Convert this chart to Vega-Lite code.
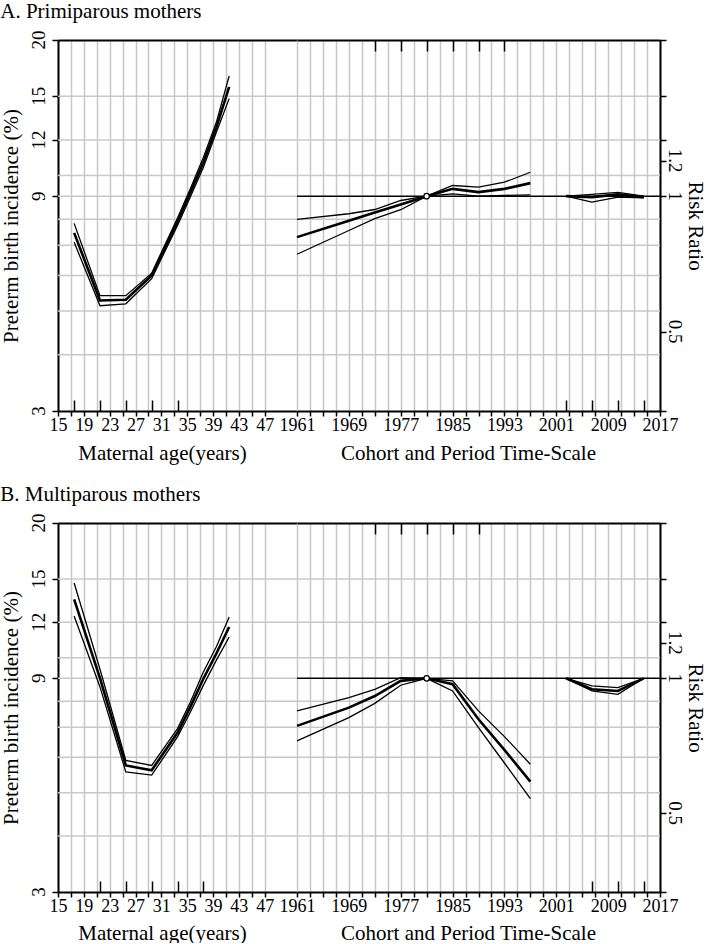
{
  "$schema": "https://vega.github.io/schema/vega-lite/v6.json",
  "padding": {"left": 0, "top": 0, "right": 0, "bottom": 0},
  "datasets": {
    "gridRate": [{"rate": 4}, {"rate": 5}, {"rate": 6}, {"rate": 7}, {"rate": 8}, {"rate": 9}, {"rate": 10}, {"rate": 12}, {"rate": 15}],
    "gridRR": [{"rr": 0.444444}, {"rr": 0.555556}, {"rr": 0.666667}, {"rr": 0.777778}, {"rr": 0.888889}, {"rr": 1.111111}, {"rr": 1.333333}, {"rr": 1.666667}],
    "refline": [{"rr": 1}],
    "ylabL": [{"rate": 3, "t": "3"}, {"rate": 9, "t": "9"}, {"rate": 12, "t": "12"}, {"rate": 15, "t": "15"}, {"rate": 20, "t": "20"}],
    "ylabR": [{"rr": 0.5, "t": "0.5"}, {"rr": 1, "t": "1"}, {"rr": 1.2, "t": "1.2"}],
    "age": [
      {"p": "A", "age": 17.5, "band": "hi", "rate": 7.83}, {"p": "A", "age": 17.5, "band": "est", "rate": 7.46}, {"p": "A", "age": 17.5, "band": "lo", "rate": 7.11},
      {"p": "A", "age": 21.5, "band": "hi", "rate": 5.41}, {"p": "A", "age": 21.5, "band": "est", "rate": 5.28}, {"p": "A", "age": 21.5, "band": "lo", "rate": 5.14},
      {"p": "A", "age": 25.5, "band": "hi", "rate": 5.41}, {"p": "A", "age": 25.5, "band": "est", "rate": 5.30}, {"p": "A", "age": 25.5, "band": "lo", "rate": 5.19},
      {"p": "A", "age": 29.5, "band": "hi", "rate": 6.07}, {"p": "A", "age": 29.5, "band": "est", "rate": 6.00}, {"p": "A", "age": 29.5, "band": "lo", "rate": 5.90},
      {"p": "A", "age": 33.5, "band": "hi", "rate": 8.05}, {"p": "A", "age": 33.5, "band": "est", "rate": 7.90}, {"p": "A", "age": 33.5, "band": "lo", "rate": 7.75},
      {"p": "A", "age": 35.5, "band": "hi", "rate": 9.36}, {"p": "A", "age": 35.5, "band": "est", "rate": 9.17}, {"p": "A", "age": 35.5, "band": "lo", "rate": 8.97},
      {"p": "A", "age": 37.5, "band": "hi", "rate": 10.97}, {"p": "A", "age": 37.5, "band": "est", "rate": 10.69}, {"p": "A", "age": 37.5, "band": "lo", "rate": 10.42},
      {"p": "A", "age": 39.5, "band": "hi", "rate": 13.11}, {"p": "A", "age": 39.5, "band": "est", "rate": 12.78}, {"p": "A", "age": 39.5, "band": "lo", "rate": 12.46},
      {"p": "A", "age": 41.5, "band": "hi", "rate": 16.64}, {"p": "A", "age": 41.5, "band": "est", "rate": 15.73}, {"p": "A", "age": 41.5, "band": "lo", "rate": 14.82},
      {"p": "B", "age": 17.5, "band": "hi", "rate": 14.69}, {"p": "B", "age": 17.5, "band": "est", "rate": 13.51}, {"p": "B", "age": 17.5, "band": "lo", "rate": 12.40},
      {"p": "B", "age": 21.5, "band": "hi", "rate": 9.43}, {"p": "B", "age": 21.5, "band": "est", "rate": 9.01}, {"p": "B", "age": 21.5, "band": "lo", "rate": 8.61},
      {"p": "B", "age": 25.5, "band": "hi", "rate": 5.90}, {"p": "B", "age": 25.5, "band": "est", "rate": 5.75}, {"p": "B", "age": 25.5, "band": "lo", "rate": 5.56},
      {"p": "B", "age": 29.5, "band": "hi", "rate": 5.75}, {"p": "B", "age": 29.5, "band": "est", "rate": 5.61}, {"p": "B", "age": 29.5, "band": "lo", "rate": 5.47},
      {"p": "B", "age": 33.5, "band": "hi", "rate": 6.95}, {"p": "B", "age": 33.5, "band": "est", "rate": 6.80}, {"p": "B", "age": 33.5, "band": "lo", "rate": 6.66},
      {"p": "B", "age": 35.5, "band": "hi", "rate": 7.97}, {"p": "B", "age": 35.5, "band": "est", "rate": 7.77}, {"p": "B", "age": 35.5, "band": "lo", "rate": 7.57},
      {"p": "B", "age": 37.5, "band": "hi", "rate": 9.30}, {"p": "B", "age": 37.5, "band": "est", "rate": 8.98}, {"p": "B", "age": 37.5, "band": "lo", "rate": 8.68},
      {"p": "B", "age": 39.5, "band": "hi", "rate": 10.57}, {"p": "B", "age": 39.5, "band": "est", "rate": 10.21}, {"p": "B", "age": 39.5, "band": "lo", "rate": 9.87},
      {"p": "B", "age": 41.5, "band": "hi", "rate": 12.34}, {"p": "B", "age": 41.5, "band": "est", "rate": 11.72}, {"p": "B", "age": 41.5, "band": "lo", "rate": 11.13}
    ],
    "cp": [
      {"p": "A", "kind": "c", "year": 1961, "band": "hi", "rr": 0.888}, {"p": "A", "kind": "c", "year": 1961, "band": "est", "rr": 0.811}, {"p": "A", "kind": "c", "year": 1961, "band": "lo", "rr": 0.743},
      {"p": "A", "kind": "c", "year": 1969, "band": "hi", "rr": 0.914}, {"p": "A", "kind": "c", "year": 1969, "band": "est", "rr": 0.882}, {"p": "A", "kind": "c", "year": 1969, "band": "lo", "rr": 0.839},
      {"p": "A", "kind": "c", "year": 1973, "band": "hi", "rr": 0.934}, {"p": "A", "kind": "c", "year": 1973, "band": "est", "rr": 0.920}, {"p": "A", "kind": "c", "year": 1973, "band": "lo", "rr": 0.891},
      {"p": "A", "kind": "c", "year": 1977, "band": "hi", "rr": 0.978}, {"p": "A", "kind": "c", "year": 1977, "band": "est", "rr": 0.958}, {"p": "A", "kind": "c", "year": 1977, "band": "lo", "rr": 0.933},
      {"p": "A", "kind": "c", "year": 1981, "band": "hi", "rr": 1}, {"p": "A", "kind": "c", "year": 1981, "band": "est", "rr": 1}, {"p": "A", "kind": "c", "year": 1981, "band": "lo", "rr": 1},
      {"p": "A", "kind": "c", "year": 1985, "band": "hi", "rr": 1.056}, {"p": "A", "kind": "c", "year": 1985, "band": "est", "rr": 1.038}, {"p": "A", "kind": "c", "year": 1985, "band": "lo", "rr": 1.012},
      {"p": "A", "kind": "c", "year": 1989, "band": "hi", "rr": 1.047}, {"p": "A", "kind": "c", "year": 1989, "band": "est", "rr": 1.021}, {"p": "A", "kind": "c", "year": 1989, "band": "lo", "rr": 1.0},
      {"p": "A", "kind": "c", "year": 1993, "band": "hi", "rr": 1.074}, {"p": "A", "kind": "c", "year": 1993, "band": "est", "rr": 1.038}, {"p": "A", "kind": "c", "year": 1993, "band": "lo", "rr": 1.004},
      {"p": "A", "kind": "c", "year": 1997, "band": "hi", "rr": 1.130}, {"p": "A", "kind": "c", "year": 1997, "band": "est", "rr": 1.069}, {"p": "A", "kind": "c", "year": 1997, "band": "lo", "rr": 1.007},
      {"p": "A", "kind": "p", "year": 2002.5, "band": "hi", "rr": 1}, {"p": "A", "kind": "p", "year": 2002.5, "band": "est", "rr": 1}, {"p": "A", "kind": "p", "year": 2002.5, "band": "lo", "rr": 1},
      {"p": "A", "kind": "p", "year": 2006.5, "band": "hi", "rr": 1.009}, {"p": "A", "kind": "p", "year": 2006.5, "band": "est", "rr": 0.995}, {"p": "A", "kind": "p", "year": 2006.5, "band": "lo", "rr": 0.970},
      {"p": "A", "kind": "p", "year": 2010.5, "band": "hi", "rr": 1.019}, {"p": "A", "kind": "p", "year": 2010.5, "band": "est", "rr": 1.009}, {"p": "A", "kind": "p", "year": 2010.5, "band": "lo", "rr": 0.995},
      {"p": "A", "kind": "p", "year": 2014.5, "band": "hi", "rr": 1.0}, {"p": "A", "kind": "p", "year": 2014.5, "band": "est", "rr": 0.995}, {"p": "A", "kind": "p", "year": 2014.5, "band": "lo", "rr": 0.992},
      {"p": "B", "kind": "c", "year": 1961, "band": "hi", "rr": 0.846}, {"p": "B", "kind": "c", "year": 1961, "band": "est", "rr": 0.783}, {"p": "B", "kind": "c", "year": 1961, "band": "lo", "rr": 0.725},
      {"p": "B", "kind": "c", "year": 1969, "band": "hi", "rr": 0.906}, {"p": "B", "kind": "c", "year": 1969, "band": "est", "rr": 0.860}, {"p": "B", "kind": "c", "year": 1969, "band": "lo", "rr": 0.817},
      {"p": "B", "kind": "c", "year": 1973, "band": "hi", "rr": 0.945}, {"p": "B", "kind": "c", "year": 1973, "band": "est", "rr": 0.913}, {"p": "B", "kind": "c", "year": 1973, "band": "lo", "rr": 0.879},
      {"p": "B", "kind": "c", "year": 1977, "band": "hi", "rr": 1.004}, {"p": "B", "kind": "c", "year": 1977, "band": "est", "rr": 0.987}, {"p": "B", "kind": "c", "year": 1977, "band": "lo", "rr": 0.965},
      {"p": "B", "kind": "c", "year": 1981, "band": "hi", "rr": 1}, {"p": "B", "kind": "c", "year": 1981, "band": "est", "rr": 1}, {"p": "B", "kind": "c", "year": 1981, "band": "lo", "rr": 1},
      {"p": "B", "kind": "c", "year": 1985, "band": "hi", "rr": 0.987}, {"p": "B", "kind": "c", "year": 1985, "band": "est", "rr": 0.970}, {"p": "B", "kind": "c", "year": 1985, "band": "lo", "rr": 0.937},
      {"p": "B", "kind": "c", "year": 1989, "band": "hi", "rr": 0.846}, {"p": "B", "kind": "c", "year": 1989, "band": "est", "rr": 0.810}, {"p": "B", "kind": "c", "year": 1989, "band": "lo", "rr": 0.776},
      {"p": "B", "kind": "c", "year": 1993, "band": "hi", "rr": 0.741}, {"p": "B", "kind": "c", "year": 1993, "band": "est", "rr": 0.692}, {"p": "B", "kind": "c", "year": 1993, "band": "lo", "rr": 0.647},
      {"p": "B", "kind": "c", "year": 1997, "band": "hi", "rr": 0.643}, {"p": "B", "kind": "c", "year": 1997, "band": "est", "rr": 0.588}, {"p": "B", "kind": "c", "year": 1997, "band": "lo", "rr": 0.539},
      {"p": "B", "kind": "p", "year": 2002.5, "band": "hi", "rr": 1}, {"p": "B", "kind": "p", "year": 2002.5, "band": "est", "rr": 1}, {"p": "B", "kind": "p", "year": 2002.5, "band": "lo", "rr": 1},
      {"p": "B", "kind": "p", "year": 2006.5, "band": "hi", "rr": 0.962}, {"p": "B", "kind": "p", "year": 2006.5, "band": "est", "rr": 0.945}, {"p": "B", "kind": "p", "year": 2006.5, "band": "lo", "rr": 0.937},
      {"p": "B", "kind": "p", "year": 2010.5, "band": "hi", "rr": 0.953}, {"p": "B", "kind": "p", "year": 2010.5, "band": "est", "rr": 0.937}, {"p": "B", "kind": "p", "year": 2010.5, "band": "lo", "rr": 0.921},
      {"p": "B", "kind": "p", "year": 2014.5, "band": "hi", "rr": 1}, {"p": "B", "kind": "p", "year": 2014.5, "band": "est", "rr": 1}, {"p": "B", "kind": "p", "year": 2014.5, "band": "lo", "rr": 1}
    ]
  },
  "spacing": 20,
  "vconcat": [
    {
      "title": {"text": "A. Primiparous mothers"},
      "spacing": 0,
      "bounds": "flush",
      "hconcat": [
        {
          "width": 239, "height": 371,
          "resolve": {"axis": {"x": "independent"}},
          "layer": [
            {"data": {"name": "gridRate"}, "mark": {"type": "rule", "color": "#c8c8c8", "strokeWidth": 1.5},
             "encoding": {"y": {"field": "rate", "type": "quantitative", "scale": {"type": "log", "domain": [3, 20], "nice": false},
               "axis": {"orient": "left", "values": [3, 9, 12, 15, 20], "labels": false, "tickSize": 6, "grid": false, "title": "Preterm birth incidence (%)", "titlePadding": 30}}}},
            {"data": {"name": "ylabL"}, "mark": {"type": "text", "angle": 270, "align": "center", "baseline": "bottom", "dy": -9, "fontSize": 19, "font": "Liberation Serif, Times New Roman, Times, serif", "color": "black"},
             "encoding": {"x": {"datum": 15, "type": "quantitative", "axis": null}, "y": {"field": "rate", "type": "quantitative"}, "text": {"field": "t"}}},
            {"data": {"name": "age"}, "transform": [{"filter": "datum.p == 'A' && datum.band == 'est'"}],
             "mark": {"type": "line", "color": "black", "strokeWidth": 2.6},
             "encoding": {"x": {"field": "age", "type": "quantitative", "scale": {"domain": [15, 52], "nice": false, "zero": false},
               "axis": {"orient": "bottom", "values": [15, 17, 19, 21, 23, 25, 27, 29, 31, 33, 35, 37, 39, 41, 43, 45, 47], "labelExpr": "(datum.value - 15) % 4 === 0 ? datum.label : ''", "grid": true, "gridColor": "#c8c8c8", "gridWidth": 1.5, "tickSize": 5, "labelPadding": 0, "title": "Maternal age(years)", "titleX": 104, "titlePadding": 8}},
               "y": {"field": "rate", "type": "quantitative"}}},
            {"data": {"name": "age"}, "transform": [{"filter": "datum.p == 'A' && datum.band == 'lo'"}],
             "mark": {"type": "line", "color": "black", "strokeWidth": 1.3},
             "encoding": {"x": {"field": "age", "type": "quantitative",
               "axis": {"orient": "bottom", "values": [17.5, 21.5, 25.5, 29.5, 33.5], "tickSize": -11, "labels": false, "domain": false, "grid": false, "title": null}},
               "y": {"field": "rate", "type": "quantitative"}}},
            {"data": {"name": "age"}, "transform": [{"filter": "datum.p == 'A' && datum.band == 'hi'"}],
             "mark": {"type": "line", "color": "black", "strokeWidth": 1.3},
             "encoding": {"x": {"field": "age", "type": "quantitative",
               "axis": {"orient": "top", "ticks": false, "labels": false, "domain": true, "grid": false, "title": null}},
               "y": {"field": "rate", "type": "quantitative"}}}
          ]
        },
        {
          "width": 363, "height": 371,
          "resolve": {"axis": {"x": "independent"}},
          "layer": [
            {"data": {"name": "gridRR"}, "mark": {"type": "rule", "color": "#c8c8c8", "strokeWidth": 1.5},
             "encoding": {"y": {"field": "rr", "type": "quantitative", "scale": {"type": "log", "domain": [0.333333, 2.222222], "nice": false},
               "axis": {"orient": "right", "values": [0.333333, 0.5, 1, 1.2, 1.333333, 1.666667, 2.222222], "labels": false, "tickSize": 6, "grid": false, "title": "Risk Ratio", "titlePadding": 18}}}},
            {"data": {"name": "ylabR"}, "mark": {"type": "text", "angle": 90, "align": "center", "baseline": "bottom", "dy": -5, "fontSize": 19, "font": "Liberation Serif, Times New Roman, Times, serif", "color": "black"},
             "encoding": {"x": {"datum": 2017, "type": "quantitative", "axis": null}, "y": {"field": "rr", "type": "quantitative"}, "text": {"field": "t"}}},
            {"data": {"name": "refline"}, "mark": {"type": "rule", "color": "black", "strokeWidth": 1.5},
             "encoding": {"y": {"field": "rr", "type": "quantitative"}}},
            {"data": {"name": "cp"}, "transform": [{"filter": "datum.p == 'A' && datum.band == 'est'"}],
             "mark": {"type": "line", "color": "black", "strokeWidth": 2.6},
             "encoding": {"x": {"field": "year", "type": "quantitative", "scale": {"domain": [1961, 2017], "nice": false, "zero": false},
               "axis": {"orient": "bottom", "values": [1961, 1963, 1965, 1967, 1969, 1971, 1973, 1975, 1977, 1979, 1981, 1983, 1985, 1987, 1989, 1991, 1993, 1995, 1997, 1999, 2001, 2003, 2005, 2007, 2009, 2011, 2013, 2015, 2017], "format": "d", "labelExpr": "(datum.value - 1961) % 8 === 0 ? datum.label : ''", "grid": true, "gridColor": "#c8c8c8", "gridWidth": 1.5, "tickSize": 5, "labelPadding": 0, "title": "Cohort and Period Time-Scale", "titleX": 171, "titlePadding": 8}},
               "y": {"field": "rr", "type": "quantitative"},
               "detail": {"field": "kind"}}},
            {"data": {"name": "cp"}, "transform": [{"filter": "datum.p == 'A' && datum.band == 'lo'"}],
             "mark": {"type": "line", "color": "black", "strokeWidth": 1.3},
             "encoding": {"x": {"field": "year", "type": "quantitative",
               "axis": {"orient": "top", "values": [1973, 1977, 1981, 1985, 1989, 1993], "tickSize": -11, "labels": false, "domain": true, "grid": false, "title": null}},
               "y": {"field": "rr", "type": "quantitative"},
               "detail": {"field": "kind"}}},
            {"data": {"name": "cp"}, "transform": [{"filter": "datum.p == 'A' && datum.band == 'hi'"}],
             "mark": {"type": "line", "color": "black", "strokeWidth": 1.3},
             "encoding": {"x": {"field": "year", "type": "quantitative",
               "axis": {"orient": "bottom", "values": [2002.5, 2006.5, 2010.5, 2014.5], "tickSize": -11, "labels": false, "domain": false, "grid": false, "title": null}},
               "y": {"field": "rr", "type": "quantitative"},
               "detail": {"field": "kind"}}},
            {"data": {"name": "cp"}, "transform": [{"filter": "datum.p == 'A' && datum.band == 'est' && datum.kind == 'c' && datum.year == 1981"}],
             "mark": {"type": "point", "filled": true, "fill": "white", "stroke": "black", "strokeWidth": 1.3, "size": 30, "opacity": 1},
             "encoding": {"x": {"field": "year", "type": "quantitative", "axis": null},
               "y": {"field": "rr", "type": "quantitative"}}}
          ]
        }
      ]
    },
    {
      "title": {"text": "B. Multiparous mothers"},
      "spacing": 0,
      "bounds": "flush",
      "hconcat": [
        {
          "width": 239, "height": 369,
          "resolve": {"axis": {"x": "independent"}},
          "layer": [
            {"data": {"name": "gridRate"}, "mark": {"type": "rule", "color": "#c8c8c8", "strokeWidth": 1.5},
             "encoding": {"y": {"field": "rate", "type": "quantitative", "scale": {"type": "log", "domain": [3, 20], "nice": false},
               "axis": {"orient": "left", "values": [3, 9, 12, 15, 20], "labels": false, "tickSize": 6, "grid": false, "title": "Preterm birth incidence (%)", "titlePadding": 30}}}},
            {"data": {"name": "ylabL"}, "mark": {"type": "text", "angle": 270, "align": "center", "baseline": "bottom", "dy": -9, "fontSize": 19, "font": "Liberation Serif, Times New Roman, Times, serif", "color": "black"},
             "encoding": {"x": {"datum": 15, "type": "quantitative", "axis": null}, "y": {"field": "rate", "type": "quantitative"}, "text": {"field": "t"}}},
            {"data": {"name": "age"}, "transform": [{"filter": "datum.p == 'B' && datum.band == 'est'"}],
             "mark": {"type": "line", "color": "black", "strokeWidth": 2.6},
             "encoding": {"x": {"field": "age", "type": "quantitative", "scale": {"domain": [15, 52], "nice": false, "zero": false},
               "axis": {"orient": "bottom", "values": [15, 17, 19, 21, 23, 25, 27, 29, 31, 33, 35, 37, 39, 41, 43, 45, 47], "labelExpr": "(datum.value - 15) % 4 === 0 ? datum.label : ''", "grid": true, "gridColor": "#c8c8c8", "gridWidth": 1.5, "tickSize": 5, "labelPadding": 0, "title": "Maternal age(years)", "titleX": 104, "titlePadding": 7}},
               "y": {"field": "rate", "type": "quantitative"}}},
            {"data": {"name": "age"}, "transform": [{"filter": "datum.p == 'B' && datum.band == 'lo'"}],
             "mark": {"type": "line", "color": "black", "strokeWidth": 1.3},
             "encoding": {"x": {"field": "age", "type": "quantitative",
               "axis": {"orient": "bottom", "values": [21.5, 25.5, 29.5, 33.5, 37.5], "tickSize": -11, "labels": false, "domain": false, "grid": false, "title": null}},
               "y": {"field": "rate", "type": "quantitative"}}},
            {"data": {"name": "age"}, "transform": [{"filter": "datum.p == 'B' && datum.band == 'hi'"}],
             "mark": {"type": "line", "color": "black", "strokeWidth": 1.3},
             "encoding": {"x": {"field": "age", "type": "quantitative",
               "axis": {"orient": "top", "ticks": false, "labels": false, "domain": true, "grid": false, "title": null}},
               "y": {"field": "rate", "type": "quantitative"}}}
          ]
        },
        {
          "width": 363, "height": 369,
          "resolve": {"axis": {"x": "independent"}},
          "layer": [
            {"data": {"name": "gridRR"}, "mark": {"type": "rule", "color": "#c8c8c8", "strokeWidth": 1.5},
             "encoding": {"y": {"field": "rr", "type": "quantitative", "scale": {"type": "log", "domain": [0.333333, 2.222222], "nice": false},
               "axis": {"orient": "right", "values": [0.333333, 0.5, 1, 1.2, 1.333333, 1.666667, 2.222222], "labels": false, "tickSize": 6, "grid": false, "title": "Risk Ratio", "titlePadding": 18}}}},
            {"data": {"name": "ylabR"}, "mark": {"type": "text", "angle": 90, "align": "center", "baseline": "bottom", "dy": -5, "fontSize": 19, "font": "Liberation Serif, Times New Roman, Times, serif", "color": "black"},
             "encoding": {"x": {"datum": 2017, "type": "quantitative", "axis": null}, "y": {"field": "rr", "type": "quantitative"}, "text": {"field": "t"}}},
            {"data": {"name": "refline"}, "mark": {"type": "rule", "color": "black", "strokeWidth": 1.5},
             "encoding": {"y": {"field": "rr", "type": "quantitative"}}},
            {"data": {"name": "cp"}, "transform": [{"filter": "datum.p == 'B' && datum.band == 'est'"}],
             "mark": {"type": "line", "color": "black", "strokeWidth": 2.6},
             "encoding": {"x": {"field": "year", "type": "quantitative", "scale": {"domain": [1961, 2017], "nice": false, "zero": false},
               "axis": {"orient": "bottom", "values": [1961, 1963, 1965, 1967, 1969, 1971, 1973, 1975, 1977, 1979, 1981, 1983, 1985, 1987, 1989, 1991, 1993, 1995, 1997, 1999, 2001, 2003, 2005, 2007, 2009, 2011, 2013, 2015, 2017], "format": "d", "labelExpr": "(datum.value - 1961) % 8 === 0 ? datum.label : ''", "grid": true, "gridColor": "#c8c8c8", "gridWidth": 1.5, "tickSize": 5, "labelPadding": 0, "title": "Cohort and Period Time-Scale", "titleX": 171, "titlePadding": 7}},
               "y": {"field": "rr", "type": "quantitative"},
               "detail": {"field": "kind"}}},
            {"data": {"name": "cp"}, "transform": [{"filter": "datum.p == 'B' && datum.band == 'lo'"}],
             "mark": {"type": "line", "color": "black", "strokeWidth": 1.3},
             "encoding": {"x": {"field": "year", "type": "quantitative",
               "axis": {"orient": "top", "values": [1973, 1977, 1981, 1985, 1989], "tickSize": -11, "labels": false, "domain": true, "grid": false, "title": null}},
               "y": {"field": "rr", "type": "quantitative"},
               "detail": {"field": "kind"}}},
            {"data": {"name": "cp"}, "transform": [{"filter": "datum.p == 'B' && datum.band == 'hi'"}],
             "mark": {"type": "line", "color": "black", "strokeWidth": 1.3},
             "encoding": {"x": {"field": "year", "type": "quantitative",
               "axis": {"orient": "bottom", "values": [2006.5, 2010.5, 2014.5], "tickSize": -11, "labels": false, "domain": false, "grid": false, "title": null}},
               "y": {"field": "rr", "type": "quantitative"},
               "detail": {"field": "kind"}}},
            {"data": {"name": "cp"}, "transform": [{"filter": "datum.p == 'B' && datum.band == 'est' && datum.kind == 'c' && datum.year == 1981"}],
             "mark": {"type": "point", "filled": true, "fill": "white", "stroke": "black", "strokeWidth": 1.3, "size": 30, "opacity": 1},
             "encoding": {"x": {"field": "year", "type": "quantitative", "axis": null},
               "y": {"field": "rr", "type": "quantitative"}}}
          ]
        }
      ]
    }
  ],
  "config": {
    "font": "Liberation Serif, Times New Roman, Times, serif",
    "view": {"stroke": null},
    "title": {"font": "Liberation Serif, Times New Roman, Times, serif", "fontSize": 21, "fontWeight": "normal", "color": "black", "anchor": "start", "frame": "bounds", "offset": 9},
    "axis": {"labelFont": "Liberation Serif, Times New Roman, Times, serif", "titleFont": "Liberation Serif, Times New Roman, Times, serif", "labelFontSize": 18, "titleFontSize": 21, "titleFontWeight": "normal", "labelColor": "black", "titleColor": "black", "tickColor": "black", "domainColor": "black", "domainWidth": 2, "tickWidth": 1.5, "labelFlush": false, "labelOverlap": false}
  }
}
